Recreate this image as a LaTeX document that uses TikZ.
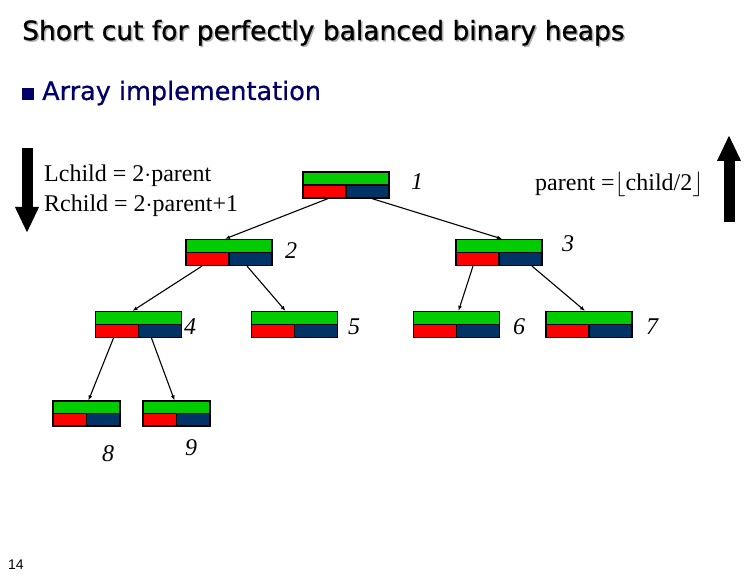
\documentclass[tikz,border=0pt]{standalone}
\usepackage{fontspec}
\setmainfont{Liberation Serif}
\newfontfamily\comicfont[FakeBold=0.8]{DejaVu Sans}
\newfontfamily\arialfont{Liberation Sans}
\usepackage{tikz}
\usetikzlibrary{arrows.meta,calc,positioning}
\definecolor{heapgreen}{RGB}{0,204,0}
\definecolor{heapred}{RGB}{255,0,0}
\definecolor{heapblue}{RGB}{0,51,102}
\definecolor{slidenavy}{RGB}{0,0,102}
\newcommand{\fsize}[1]{\fontsize{#1bp}{#1bp}\selectfont}

\begin{document}
\begin{tikzpicture}[x=1bp,y=-1bp,>={Latex[length=5bp,width=4bp]},
    heap/.style={draw,line width=1.2bp,minimum width=86bp,
      minimum height=26bp,inner sep=0pt,
      path picture={
        \fill[heapgreen] (path picture bounding box.north west)
          rectangle (path picture bounding box.east);
        \fill[heapred] (path picture bounding box.west)
          rectangle (path picture bounding box.south);
        \fill[heapblue] (path picture bounding box.south)
          rectangle (path picture bounding box.east);
        \draw[line width=1.2bp]
          (path picture bounding box.west) -- (path picture bounding box.east)
          (path picture bounding box.center) -- (path picture bounding box.south);}},
    smallheap/.style={heap,minimum width=67bp,minimum height=25bp},
    idx/.style={font=\fsize{24}\itshape,inner sep=0pt},
    rule/.style={anchor=base west,inner sep=0pt,font=\fsize{24}},
    edge/.style={->,line width=1.1bp},
    bigarrow/.style={line width=11bp,-{Triangle[length=26bp,width=22bp]}}]

    \useasboundingbox (0,0) rectangle (756,576);

    % slide heading
    \node[anchor=base west,inner sep=0pt,font=\comicfont\fsize{26.5},text=black!30]
      at (23.5,41.5) {Short cut for perfectly balanced binary heaps};
    \node[anchor=base west,inner sep=0pt,font=\comicfont\fsize{26.5}] (title)
      at (22,40) {Short cut for perfectly balanced binary heaps};
    \node[fill=slidenavy,minimum size=12bp,inner sep=0pt] (bullet) at (28,94) {};
    \node[anchor=base west,inner sep=0pt,font=\comicfont\fsize{25.5},text=slidenavy]
      (sub) at (42,100) {Array implementation};

    % index rules
    \node[rule] (lrule) at (44,182) {Lchild = 2$\cdot$parent};
    \node[rule] (rrule) at (44,212) {Rchild = 2$\cdot$parent+1};
    \node[rule] (prule) at (535,191) {parent =$\lfloor$child/2$\rfloor$};
    \coordinate (downtop) at (27,148);
    \coordinate (downtip) at (27,233);
    \draw[bigarrow] (downtop) -- (downtip);
    \coordinate (uptail) at (729,222);
    \coordinate (uptip) at (729,135);
    \draw[bigarrow] (uptail) -- (uptip);

    % heap cells
    \node[heap] (n1) at (346,185) {};
    \node[heap] (n2) at (229,252.5) {};
    \node[heap] (n3) at (499,252.5) {};
    \node[heap] (n4) at (138.5,324.5) {};
    \node[heap] (n5) at (294.5,324.5) {};
    \node[heap] (n6) at (456.5,324.5) {};
    \node[heap] (n7) at (589,324.5) {};
    \node[smallheap] (n8) at (86.5,413.5) {};
    \node[smallheap] (n9) at (176.5,413.5) {};

    \foreach \a/\da/\b/\db in {1/-18/2/-4,1/26/3/3,2/-27/4/-6,2/18/5/-9,
        3/-26/6/2,3/33/7/-4,4/-25/8/2,4/13/9/-2}
      \draw[edge] ([xshift=\da bp]n\a.south) -- ([xshift=\db bp]n\b.north);

    \node[idx] (l1) at (417,182) {1};
    \node[idx] (l2) at (291,251) {2};
    \node[idx] (l3) at (568,244) {3};
    \node[idx] (l4) at (190,327) {4};
    \node[idx] (l5) at (354,327) {5};
    \node[idx] (l6) at (519,327) {6};
    \node[idx] (l7) at (652,327) {7};
    \node[idx] (l8) at (108,454) {8};
    \node[idx] (l9) at (191,448) {9};

    \node[anchor=base west,inner sep=0pt,font=\arialfont\fsize{14}] (pagenum)
      at (8,569) {14};
  \end{tikzpicture}
\end{document}
